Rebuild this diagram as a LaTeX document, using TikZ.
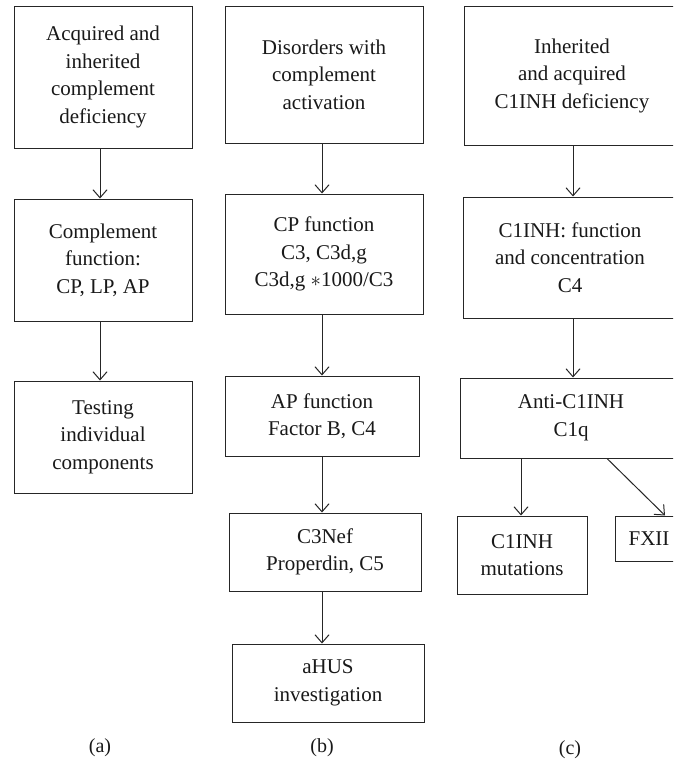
\documentclass[tikz,border=0pt]{standalone}
\usepackage{fontspec}
\setmainfont{Liberation Serif}
\usetikzlibrary{arrows.meta}
\begin{document}
\begin{tikzpicture}[x=1pt,y=-1pt,
  flowbox/.style={draw=black!85, line width=1pt, inner sep=0pt, align=center,
    font=\fontsize{21}{27.5}\selectfont, text=black!90},
  arr/.style={draw=black!85, line width=1pt, -{Straight Barb[length=8pt,width=14pt,line width=1pt]}},
  sublabel/.style={font=\fontsize{20}{24}\selectfont, text=black!90}]
\clip (0,0) rectangle (673,763);
\fill[white] (0,0) rectangle (673,763);
% column (a)
\node[flowbox, minimum width=178pt, minimum height=142pt] (a1) at (103,77) {Acquired and\\inherited\\complement\\deficiency};
\node[flowbox, minimum width=178pt, minimum height=122pt] (a2) at (103,260) {Complement\\function:\\CP, LP, AP};
\node[flowbox, minimum width=178pt, minimum height=112pt] (a3) at (103,437) {Testing\\individual\\components};
% column (b)
\node[flowbox, minimum width=198pt, minimum height=137pt] (b1) at (324,74.5) {Disorders with\\complement\\activation};
\node[flowbox, minimum width=198pt, minimum height=120pt] (b2) at (324,254) {CP function\\C3, C3d,g\\C3d,g $\ast$1000/C3};
\node[flowbox, minimum width=194pt, minimum height=80pt] (b3) at (322,416) {AP function\\Factor B, C4};
\node[flowbox, minimum width=192pt, minimum height=78pt] (b4) at (325,552) {C3Nef\\Properdin, C5};
\node[flowbox, minimum width=192pt, minimum height=78pt] (b5) at (328,683) {aHUS\\investigation};
% column (c)
\node[flowbox, minimum width=216pt, minimum height=139pt] (c1) at (572,75.5) {Inherited\\and acquired\\C1INH deficiency};
\node[flowbox, minimum width=214pt, minimum height=121pt] (c2) at (570,257.5) {C1INH: function\\and concentration\\C4};
\node[flowbox, minimum width=222pt, minimum height=80pt] (c3) at (571,418) {Anti-C1INH\\C1q};
\node[flowbox, minimum width=130pt, minimum height=78pt] (c4) at (522,555) {C1INH\\mutations};
\node[flowbox, minimum width=68pt, minimum height=45pt] (c5) at (649,538.5) {FXII};
% x positions of connectors
\coordinate (xa) at (100,0);
\coordinate (xb) at (322,0);
\coordinate (xc) at (573,0);
\coordinate (xd) at (521,0);
\coordinate (xe) at (607,0);
\coordinate (xf) at (665,0);
% connectors
\draw[arr] (a1.south -| xa) -- (a2.north -| xa);
\draw[arr] (a2.south -| xa) -- (a3.north -| xa);
\draw[arr] (b1.south -| xb) -- (b2.north -| xb);
\draw[arr] (b2.south -| xb) -- (b3.north -| xb);
\draw[arr] (b3.south -| xb) -- (b4.north -| xb);
\draw[arr] (b4.south -| xb) -- (b5.north -| xb);
\draw[arr] (c1.south -| xc) -- (c2.north -| xc);
\draw[arr] (c2.south -| xc) -- (c3.north -| xc);
\draw[arr] (c3.south -| xd) -- (c4.north -| xd);
\draw[arr] (c3.south -| xe) -- (c5.north -| xf);
% sub-labels
\node[sublabel] (la) at (100,748) {(a)};
\node[sublabel] (lb) at (322,748) {(b)};
\node[sublabel] (lc) at (570,750) {(c)};
\end{tikzpicture}
\end{document}
